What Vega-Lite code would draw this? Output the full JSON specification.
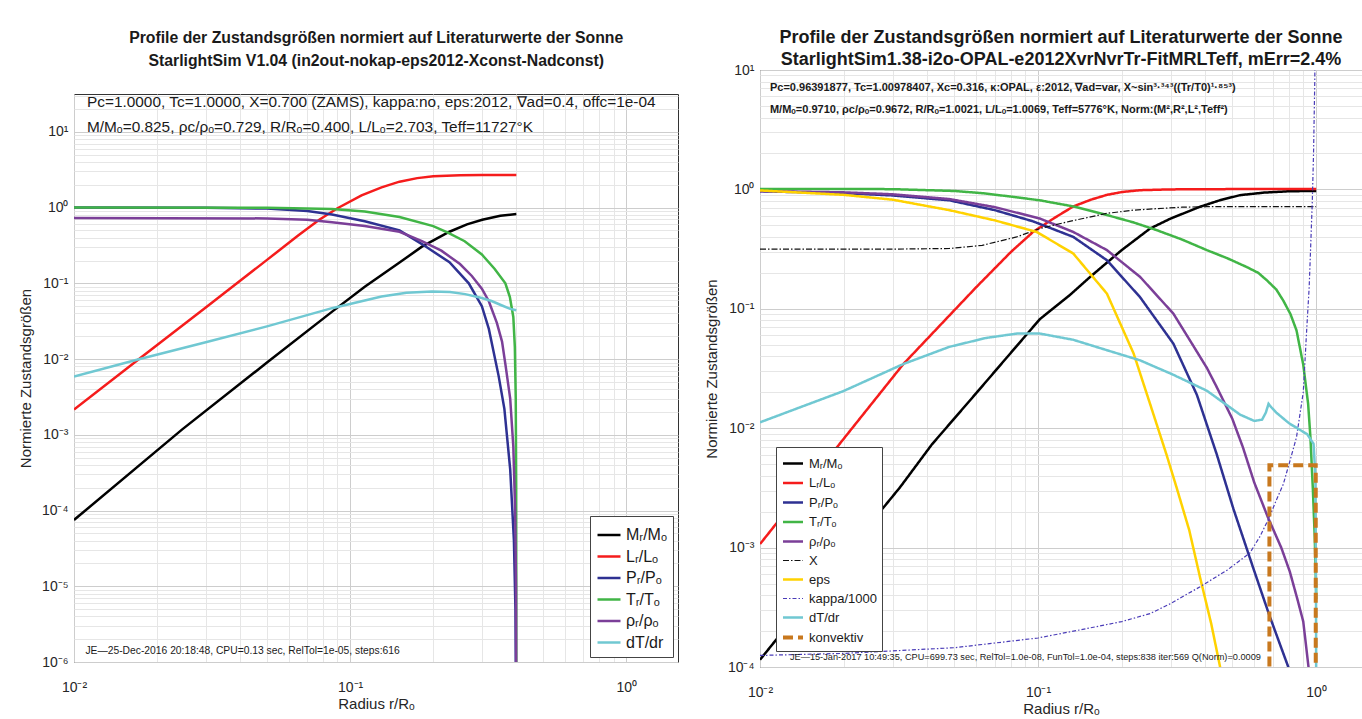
{
  "$schema": "https://vega.github.io/schema/vega-lite/v6.json",
  "background": "white",
  "padding": {"left": 17, "top": 28, "right": 0, "bottom": 0},
  "spacing": 24,
  "datasets": {
    "L": [
      {"s":"Mᵣ/Mₒ","x":0.01,"y":7.5e-5},{"s":"Mᵣ/Mₒ","x":0.0246,"y":0.00117},{"s":"Mᵣ/Mₒ","x":0.05,"y":0.009},{"s":"Mᵣ/Mₒ","x":0.0861,"y":0.0423},{"s":"Mᵣ/Mₒ","x":0.113,"y":0.09},{"s":"Mᵣ/Mₒ","x":0.151,"y":0.188},{"s":"Mᵣ/Mₒ","x":0.182,"y":0.305},{"s":"Mᵣ/Mₒ","x":0.229,"y":0.48},{"s":"Mᵣ/Mₒ","x":0.265,"y":0.6},{"s":"Mᵣ/Mₒ","x":0.301,"y":0.69},{"s":"Mᵣ/Mₒ","x":0.35,"y":0.78},{"s":"Mᵣ/Mₒ","x":0.4,"y":0.825},
      {"s":"Lᵣ/Lₒ","x":0.01,"y":0.00215},{"s":"Lᵣ/Lₒ","x":0.0172,"y":0.01},{"s":"Lᵣ/Lₒ","x":0.03,"y":0.048},{"s":"Lᵣ/Lₒ","x":0.05,"y":0.204},{"s":"Lᵣ/Lₒ","x":0.065,"y":0.43},{"s":"Lᵣ/Lₒ","x":0.0773,"y":0.69},{"s":"Lᵣ/Lₒ","x":0.09,"y":0.98},{"s":"Lᵣ/Lₒ","x":0.11,"y":1.45},{"s":"Lᵣ/Lₒ","x":0.13,"y":1.85},{"s":"Lᵣ/Lₒ","x":0.151,"y":2.2},{"s":"Lᵣ/Lₒ","x":0.175,"y":2.45},{"s":"Lᵣ/Lₒ","x":0.2,"y":2.6},{"s":"Lᵣ/Lₒ","x":0.25,"y":2.68},{"s":"Lᵣ/Lₒ","x":0.3,"y":2.7},{"s":"Lᵣ/Lₒ","x":0.4,"y":2.703},
      {"s":"Pᵣ/Pₒ","x":0.01,"y":1.0},{"s":"Pᵣ/Pₒ","x":0.03,"y":0.995},{"s":"Pᵣ/Pₒ","x":0.05,"y":0.97},{"s":"Pᵣ/Pₒ","x":0.07,"y":0.9},{"s":"Pᵣ/Pₒ","x":0.086,"y":0.81},{"s":"Pᵣ/Pₒ","x":0.113,"y":0.66},{"s":"Pᵣ/Pₒ","x":0.151,"y":0.5},{"s":"Pᵣ/Pₒ","x":0.182,"y":0.33},{"s":"Pᵣ/Pₒ","x":0.229,"y":0.19},{"s":"Pᵣ/Pₒ","x":0.269,"y":0.1},{"s":"Pᵣ/Pₒ","x":0.3,"y":0.05},{"s":"Pᵣ/Pₒ","x":0.318,"y":0.025},{"s":"Pᵣ/Pₒ","x":0.345,"y":0.006},{"s":"Pᵣ/Pₒ","x":0.362,"y":0.0022},{"s":"Pᵣ/Pₒ","x":0.38,"y":0.00035},{"s":"Pᵣ/Pₒ","x":0.392,"y":0.00004},{"s":"Pᵣ/Pₒ","x":0.397,"y":0.000005},{"s":"Pᵣ/Pₒ","x":0.3995,"y":1e-7},
      {"s":"Tᵣ/Tₒ","x":0.01,"y":1.0},{"s":"Tᵣ/Tₒ","x":0.05,"y":0.995},{"s":"Tᵣ/Tₒ","x":0.086,"y":0.96},{"s":"Tᵣ/Tₒ","x":0.113,"y":0.89},{"s":"Tᵣ/Tₒ","x":0.151,"y":0.75},{"s":"Tᵣ/Tₒ","x":0.2,"y":0.57},{"s":"Tᵣ/Tₒ","x":0.225,"y":0.47},{"s":"Tᵣ/Tₒ","x":0.26,"y":0.36},{"s":"Tᵣ/Tₒ","x":0.3,"y":0.24},{"s":"Tᵣ/Tₒ","x":0.334,"y":0.155},{"s":"Tᵣ/Tₒ","x":0.365,"y":0.1},{"s":"Tᵣ/Tₒ","x":0.379,"y":0.066},{"s":"Tᵣ/Tₒ","x":0.39,"y":0.036},{"s":"Tᵣ/Tₒ","x":0.395,"y":0.0145},{"s":"Tᵣ/Tₒ","x":0.398,"y":0.003},{"s":"Tᵣ/Tₒ","x":0.3995,"y":0.0002},{"s":"Tᵣ/Tₒ","x":0.4,"y":1e-7},
      {"s":"ρᵣ/ρₒ","x":0.01,"y":0.729},{"s":"ρᵣ/ρₒ","x":0.05,"y":0.72},{"s":"ρᵣ/ρₒ","x":0.07,"y":0.69},{"s":"ρᵣ/ρₒ","x":0.086,"y":0.64},{"s":"ρᵣ/ρₒ","x":0.113,"y":0.57},{"s":"ρᵣ/ρₒ","x":0.151,"y":0.48},{"s":"ρᵣ/ρₒ","x":0.182,"y":0.36},{"s":"ρᵣ/ρₒ","x":0.214,"y":0.27},{"s":"ρᵣ/ρₒ","x":0.25,"y":0.18},{"s":"ρᵣ/ρₒ","x":0.276,"y":0.125},{"s":"ρᵣ/ρₒ","x":0.3,"y":0.085},{"s":"ρᵣ/ρₒ","x":0.318,"y":0.058},{"s":"ρᵣ/ρₒ","x":0.34,"y":0.03},{"s":"ρᵣ/ρₒ","x":0.355,"y":0.017},{"s":"ρᵣ/ρₒ","x":0.366,"y":0.008},{"s":"ρᵣ/ρₒ","x":0.38,"y":0.003},{"s":"ρᵣ/ρₒ","x":0.39,"y":0.0007},{"s":"ρᵣ/ρₒ","x":0.396,"y":0.0001},{"s":"ρᵣ/ρₒ","x":0.399,"y":0.00001},{"s":"ρᵣ/ρₒ","x":0.4,"y":1e-7},
      {"s":"dT/dr","x":0.01,"y":0.0059},{"s":"dT/dr","x":0.0169,"y":0.0098},{"s":"dT/dr","x":0.03,"y":0.0167},{"s":"dT/dr","x":0.05,"y":0.027},{"s":"dT/dr","x":0.086,"y":0.047},{"s":"dT/dr","x":0.11,"y":0.058},{"s":"dT/dr","x":0.13,"y":0.067},{"s":"dT/dr","x":0.16,"y":0.075},{"s":"dT/dr","x":0.198,"y":0.078},{"s":"dT/dr","x":0.23,"y":0.077},{"s":"dT/dr","x":0.261,"y":0.072},{"s":"dT/dr","x":0.3,"y":0.064},{"s":"dT/dr","x":0.327,"y":0.058},{"s":"dT/dr","x":0.355,"y":0.051},{"s":"dT/dr","x":0.38,"y":0.046},{"s":"dT/dr","x":0.4,"y":0.044}
    ],
    "R": [
      {"s":"Mᵣ/Mₒ","x":0.01,"y":0.000115},{"s":"Mᵣ/Mₒ","x":0.02,"y":0.00085},{"s":"Mᵣ/Mₒ","x":0.0319,"y":0.0032},{"s":"Mᵣ/Mₒ","x":0.0415,"y":0.0073},{"s":"Mᵣ/Mₒ","x":0.06,"y":0.0197},{"s":"Mᵣ/Mₒ","x":0.08,"y":0.043},{"s":"Mᵣ/Mₒ","x":0.1016,"y":0.082},{"s":"Mᵣ/Mₒ","x":0.13,"y":0.13},{"s":"Mᵣ/Mₒ","x":0.154,"y":0.185},{"s":"Mᵣ/Mₒ","x":0.2,"y":0.31},{"s":"Mᵣ/Mₒ","x":0.253,"y":0.47},{"s":"Mᵣ/Mₒ","x":0.3,"y":0.57},{"s":"Mᵣ/Mₒ","x":0.383,"y":0.716},{"s":"Mᵣ/Mₒ","x":0.45,"y":0.81},{"s":"Mᵣ/Mₒ","x":0.533,"y":0.895},{"s":"Mᵣ/Mₒ","x":0.65,"y":0.94},{"s":"Mᵣ/Mₒ","x":0.8,"y":0.965},{"s":"Mᵣ/Mₒ","x":1.0021,"y":0.971},
      {"s":"Lᵣ/Lₒ","x":0.01,"y":0.00107},{"s":"Lᵣ/Lₒ","x":0.0197,"y":0.0078},{"s":"Lᵣ/Lₒ","x":0.0328,"y":0.0345},{"s":"Lᵣ/Lₒ","x":0.045,"y":0.075},{"s":"Lᵣ/Lₒ","x":0.06,"y":0.152},{"s":"Lᵣ/Lₒ","x":0.08,"y":0.3},{"s":"Lᵣ/Lₒ","x":0.096,"y":0.44},{"s":"Lᵣ/Lₒ","x":0.115,"y":0.58},{"s":"Lᵣ/Lₒ","x":0.134,"y":0.72},{"s":"Lᵣ/Lₒ","x":0.155,"y":0.82},{"s":"Lᵣ/Lₒ","x":0.177,"y":0.9},{"s":"Lᵣ/Lₒ","x":0.2,"y":0.95},{"s":"Lᵣ/Lₒ","x":0.233,"y":0.985},{"s":"Lᵣ/Lₒ","x":0.3,"y":1.0},{"s":"Lᵣ/Lₒ","x":0.5,"y":1.006},{"s":"Lᵣ/Lₒ","x":1.0021,"y":1.0069},
      {"s":"Pᵣ/Pₒ","x":0.01,"y":0.964},{"s":"Pᵣ/Pₒ","x":0.02,"y":0.93},{"s":"Pᵣ/Pₒ","x":0.03,"y":0.89},{"s":"Pᵣ/Pₒ","x":0.048,"y":0.81},{"s":"Pᵣ/Pₒ","x":0.07,"y":0.67},{"s":"Pᵣ/Pₒ","x":0.096,"y":0.54},{"s":"Pᵣ/Pₒ","x":0.134,"y":0.4},{"s":"Pᵣ/Pₒ","x":0.177,"y":0.255},{"s":"Pᵣ/Pₒ","x":0.233,"y":0.125},{"s":"Pᵣ/Pₒ","x":0.307,"y":0.051},{"s":"Pᵣ/Pₒ","x":0.373,"y":0.019},{"s":"Pᵣ/Pₒ","x":0.44,"y":0.006},{"s":"Pᵣ/Pₒ","x":0.505,"y":0.0021},{"s":"Pᵣ/Pₒ","x":0.594,"y":0.00068},{"s":"Pᵣ/Pₒ","x":0.68,"y":0.00027},{"s":"Pᵣ/Pₒ","x":0.795,"y":0.0001},{"s":"Pᵣ/Pₒ","x":0.85,"y":0.00005},
      {"s":"Tᵣ/Tₒ","x":0.01,"y":1.0098},{"s":"Tᵣ/Tₒ","x":0.03,"y":1.005},{"s":"Tᵣ/Tₒ","x":0.05,"y":0.97},{"s":"Tᵣ/Tₒ","x":0.063,"y":0.93},{"s":"Tᵣ/Tₒ","x":0.08,"y":0.87},{"s":"Tᵣ/Tₒ","x":0.1016,"y":0.81},{"s":"Tᵣ/Tₒ","x":0.134,"y":0.72},{"s":"Tᵣ/Tₒ","x":0.177,"y":0.61},{"s":"Tᵣ/Tₒ","x":0.22,"y":0.53},{"s":"Tᵣ/Tₒ","x":0.268,"y":0.455},{"s":"Tᵣ/Tₒ","x":0.33,"y":0.38},{"s":"Tᵣ/Tₒ","x":0.405,"y":0.31},{"s":"Tᵣ/Tₒ","x":0.48,"y":0.265},{"s":"Tᵣ/Tₒ","x":0.563,"y":0.224},{"s":"Tᵣ/Tₒ","x":0.62,"y":0.2},{"s":"Tᵣ/Tₒ","x":0.666,"y":0.173},{"s":"Tᵣ/Tₒ","x":0.72,"y":0.145},{"s":"Tᵣ/Tₒ","x":0.763,"y":0.117},{"s":"Tᵣ/Tₒ","x":0.81,"y":0.09},{"s":"Tᵣ/Tₒ","x":0.851,"y":0.066},{"s":"Tᵣ/Tₒ","x":0.9,"y":0.034},{"s":"Tᵣ/Tₒ","x":0.937,"y":0.016},{"s":"Tᵣ/Tₒ","x":0.955,"y":0.0084},{"s":"Tᵣ/Tₒ","x":0.975,"y":0.003},{"s":"Tᵣ/Tₒ","x":0.99,"y":0.0012},{"s":"Tᵣ/Tₒ","x":1.0,"y":0.0005},{"s":"Tᵣ/Tₒ","x":1.0021,"y":0.00037},
      {"s":"ρᵣ/ρₒ","x":0.01,"y":0.9672},{"s":"ρᵣ/ρₒ","x":0.02,"y":0.945},{"s":"ρᵣ/ρₒ","x":0.03,"y":0.91},{"s":"ρᵣ/ρₒ","x":0.048,"y":0.83},{"s":"ρᵣ/ρₒ","x":0.07,"y":0.71},{"s":"ρᵣ/ρₒ","x":0.1016,"y":0.57},{"s":"ρᵣ/ρₒ","x":0.134,"y":0.44},{"s":"ρᵣ/ρₒ","x":0.177,"y":0.31},{"s":"ρᵣ/ρₒ","x":0.233,"y":0.185},{"s":"ρᵣ/ρₒ","x":0.307,"y":0.091},{"s":"ρᵣ/ρₒ","x":0.36,"y":0.05},{"s":"ρᵣ/ρₒ","x":0.405,"y":0.032},{"s":"ρᵣ/ρₒ","x":0.44,"y":0.022},{"s":"ρᵣ/ρₒ","x":0.5,"y":0.012},{"s":"ρᵣ/ρₒ","x":0.545,"y":0.007},{"s":"ρᵣ/ρₒ","x":0.6,"y":0.0035},{"s":"ρᵣ/ρₒ","x":0.671,"y":0.0018},{"s":"ρᵣ/ρₒ","x":0.75,"y":0.001},{"s":"ρᵣ/ρₒ","x":0.805,"y":0.00063},{"s":"ρᵣ/ρₒ","x":0.86,"y":0.00036},{"s":"ρᵣ/ρₒ","x":0.9,"y":0.00024},{"s":"ρᵣ/ρₒ","x":0.94,"y":0.0001},{"s":"ρᵣ/ρₒ","x":0.96,"y":0.00004},
      {"s":"X","x":0.01,"y":0.316},{"s":"X","x":0.03,"y":0.316},{"s":"X","x":0.048,"y":0.32},{"s":"X","x":0.063,"y":0.34},{"s":"X","x":0.0838,"y":0.4},{"s":"X","x":0.1016,"y":0.47},{"s":"X","x":0.13,"y":0.54},{"s":"X","x":0.177,"y":0.63},{"s":"X","x":0.22,"y":0.67},{"s":"X","x":0.268,"y":0.69},{"s":"X","x":0.33,"y":0.71},{"s":"X","x":0.405,"y":0.716},{"s":"X","x":1.0,"y":0.716},
      {"s":"eps","x":0.01,"y":0.98},{"s":"eps","x":0.02,"y":0.9},{"s":"eps","x":0.03,"y":0.82},{"s":"eps","x":0.048,"y":0.67},{"s":"eps","x":0.07,"y":0.55},{"s":"eps","x":0.099,"y":0.44},{"s":"eps","x":0.134,"y":0.29},{"s":"eps","x":0.177,"y":0.134},{"s":"eps","x":0.221,"y":0.042},{"s":"eps","x":0.253,"y":0.016},{"s":"eps","x":0.29,"y":0.006},{"s":"eps","x":0.315,"y":0.0032},{"s":"eps","x":0.35,"y":0.0014},{"s":"eps","x":0.383,"y":0.00056},{"s":"eps","x":0.42,"y":0.00023},{"s":"eps","x":0.452,"y":0.0001},{"s":"eps","x":0.47,"y":0.00006},
      {"s":"kappa/1000","x":0.01,"y":0.000125},{"s":"kappa/1000","x":0.02,"y":0.00013},{"s":"kappa/1000","x":0.05,"y":0.000145},{"s":"kappa/1000","x":0.1,"y":0.000175},{"s":"kappa/1000","x":0.15,"y":0.00021},{"s":"kappa/1000","x":0.2,"y":0.00024},{"s":"kappa/1000","x":0.253,"y":0.00028},{"s":"kappa/1000","x":0.3,"y":0.00034},{"s":"kappa/1000","x":0.383,"y":0.00047},{"s":"kappa/1000","x":0.48,"y":0.00065},{"s":"kappa/1000","x":0.578,"y":0.0009},{"s":"kappa/1000","x":0.63,"y":0.00125},{"s":"kappa/1000","x":0.68,"y":0.0018},{"s":"kappa/1000","x":0.72,"y":0.0025},{"s":"kappa/1000","x":0.763,"y":0.0034},{"s":"kappa/1000","x":0.8,"y":0.005},{"s":"kappa/1000","x":0.851,"y":0.0084},{"s":"kappa/1000","x":0.9,"y":0.02},{"s":"kappa/1000","x":0.927,"y":0.07},{"s":"kappa/1000","x":0.945,"y":0.15},{"s":"kappa/1000","x":0.955,"y":0.29},{"s":"kappa/1000","x":0.97,"y":0.8},{"s":"kappa/1000","x":0.98,"y":2.0},{"s":"kappa/1000","x":0.99,"y":8},{"s":"kappa/1000","x":0.995,"y":40},
      {"s":"dT/dr","x":0.01,"y":0.0112},{"s":"dT/dr","x":0.02,"y":0.0205},{"s":"dT/dr","x":0.0328,"y":0.0345},{"s":"dT/dr","x":0.048,"y":0.048},{"s":"dT/dr","x":0.065,"y":0.057},{"s":"dT/dr","x":0.084,"y":0.062},{"s":"dT/dr","x":0.1016,"y":0.062},{"s":"dT/dr","x":0.134,"y":0.055},{"s":"dT/dr","x":0.177,"y":0.045},{"s":"dT/dr","x":0.233,"y":0.037},{"s":"dT/dr","x":0.307,"y":0.028},{"s":"dT/dr","x":0.405,"y":0.0206},{"s":"dT/dr","x":0.533,"y":0.013},{"s":"dT/dr","x":0.6,"y":0.0115},{"s":"dT/dr","x":0.64,"y":0.0118},{"s":"dT/dr","x":0.66,"y":0.0135},{"s":"dT/dr","x":0.675,"y":0.016},{"s":"dT/dr","x":0.69,"y":0.015},{"s":"dT/dr","x":0.72,"y":0.0135},{"s":"dT/dr","x":0.8,"y":0.011},{"s":"dT/dr","x":0.93,"y":0.0089},{"s":"dT/dr","x":0.98,"y":0.0074},{"s":"dT/dr","x":0.995,"y":0.004},{"s":"dT/dr","x":1.0,"y":0.0005},{"s":"dT/dr","x":1.002,"y":0.00005},
      {"s":"konvektiv","x":0.6799,"y":0.00001},{"s":"konvektiv","x":0.68,"y":0.0049},{"s":"konvektiv","x":0.998,"y":0.0049},{"s":"konvektiv","x":0.9981,"y":0.00001}
    ]
  },
  "hconcat": [
    {
      "title": {"text": ["Profile der Zustandsgrößen normiert auf Literaturwerte der Sonne", "StarlightSim V1.04 (in2out-nokap-eps2012-Xconst-Nadconst)"], "offset": 0, "fontSize": 15.8, "lineHeight": 23, "anchor": "middle", "frame": "bounds", "dx": 28},
      "spacing": 17,
      "resolve": {"legend": {"color": "independent"}},
      "vconcat": [
        {
          "width": 604,
          "height": 1,
          "data": {"values": []},
          "mark": "point",
          "view": {"stroke": null}
        },
        {
          "width": 604,
          "height": 568,
          "encoding": {
            "x": {"field": "x", "type": "quantitative",
              "scale": {"type": "log", "domain": [0.01, 1.54], "nice": false},
              "axis": {"title": "Radius r/Rₒ",
                "values": [0.01,0.02,0.03,0.04,0.05,0.06,0.07,0.08,0.09,0.1,0.2,0.3,0.4,0.5,0.6,0.7,0.8,0.9,1],
                "labelExpr": "datum.value==0.01?'10⁻²':datum.value==0.1?'10⁻¹':datum.value==1?'10⁰':''",
                "gridColor": {"condition": {"test": "datum.value==0.01||datum.value==0.1||datum.value==1", "value": "#cdcdcd"}, "value": "#e6e6e6"}}},
            "y": {"field": "y", "type": "quantitative",
              "scale": {"type": "log", "domain": [1e-6, 31.62], "nice": false},
              "axis": {"title": "Normierte Zustandsgrößen",
                "values": [1e-6,2e-6,3e-6,4e-6,5e-6,6e-6,7e-6,8e-6,9e-6,1e-5,2e-5,3e-5,4e-5,5e-5,6e-5,7e-5,8e-5,9e-5,1e-4,2e-4,3e-4,4e-4,5e-4,6e-4,7e-4,8e-4,9e-4,0.001,0.002,0.003,0.004,0.005,0.006,0.007,0.008,0.009,0.01,0.02,0.03,0.04,0.05,0.06,0.07,0.08,0.09,0.1,0.2,0.3,0.4,0.5,0.6,0.7,0.8,0.9,1,2,3,4,5,6,7,8,9,10,20,30],
                "labelExpr": "datum.value==0.000001?'10⁻⁶':datum.value==0.00001?'10⁻⁵':datum.value==0.0001?'10⁻⁴':datum.value==0.001?'10⁻³':datum.value==0.01?'10⁻²':datum.value==0.1?'10⁻¹':datum.value==1?'10⁰':datum.value==10?'10¹':''",
                "gridColor": {"condition": {"test": "datum.value==0.000001||datum.value==0.00001||datum.value==0.0001||datum.value==0.001||datum.value==0.01||datum.value==0.1||datum.value==1||datum.value==10", "value": "#cdcdcd"}, "value": "#e6e6e6"}}}
          },
          "layer": [
            {
              "data": {"name": "L"},
              "mark": {"type": "line", "clip": true, "strokeWidth": 2.5},
              "encoding": {
                "color": {"field": "s", "type": "nominal",
                  "scale": {"domain": ["Mᵣ/Mₒ","Lᵣ/Lₒ","Pᵣ/Pₒ","Tᵣ/Tₒ","ρᵣ/ρₒ","dT/dr"], "range": ["#000000","#f51c1c","#2e3192","#41b546","#7b3f98","#70c8d2"]},
                  "legend": {"orient": "bottom-right", "offset": 5, "title": null, "symbolType": "stroke", "symbolSize": 529, "symbolStrokeWidth": 2.5, "labelFontSize": 16, "rowPadding": 0.5, "padding": 6, "strokeColor": "#444444", "fillColor": "white", "labelColor": "#1a1a1a"}}
              }
            },
            {
              "data": {"values": [
                {"x": 0.01114, "y": 25, "t": "Pc=1.0000, Tc=1.0000, X=0.700 (ZAMS), kappa:no, eps:2012, ∇ad=0.4, offc=1e-04"},
                {"x": 0.01114, "y": 11.7, "t": "M/Mₒ=0.825, ρc/ρₒ=0.729, R/Rₒ=0.400, L/Lₒ=2.703, Teff=11727°K"}
              ]},
              "mark": {"type": "text", "align": "left", "baseline": "middle", "fontSize": 15.4, "color": "#1a1a1a"},
              "encoding": {"text": {"field": "t"}}
            },
            {
              "data": {"values": [
                {"x": 0.011, "y": 1.4e-6, "t": "JE—25-Dec-2016 20:18:48, CPU=0.13 sec, RelTol=1e-05, steps:616"}
              ]},
              "mark": {"type": "text", "align": "left", "baseline": "middle", "fontSize": 10.3, "color": "#1a1a1a"},
              "encoding": {"text": {"field": "t"}}
            }
          ]
        }
      ]
    },
    {
      "width": 602,
      "height": 597,
      "title": {"text": ["Profile der Zustandsgrößen normiert auf Literaturwerte der Sonne", "StarlightSim1.38-i2o-OPAL-e2012XvrNvrTr-FitMRLTeff, mErr=2.4%"], "offset": -6, "fontSize": 18, "lineHeight": 22, "anchor": "middle", "frame": "group"},
      "encoding": {
        "x": {"field": "x", "type": "quantitative",
          "scale": {"type": "log", "domain": [0.01, 1.464], "nice": false},
          "axis": {"title": "Radius r/Rₒ",
            "values": [0.01,0.02,0.03,0.04,0.05,0.06,0.07,0.08,0.09,0.1,0.2,0.3,0.4,0.5,0.6,0.7,0.8,0.9,1],
            "labelExpr": "datum.value==0.01?'10⁻²':datum.value==0.1?'10⁻¹':datum.value==1?'10⁰':''",
            "gridColor": {"condition": {"test": "datum.value==0.01||datum.value==0.1||datum.value==1", "value": "#cdcdcd"}, "value": "#e6e6e6"}}},
        "y": {"field": "y", "type": "quantitative",
          "scale": {"type": "log", "domain": [1e-4, 10], "nice": false},
          "axis": {"title": "Normierte Zustandsgrößen",
            "values": [1e-4,2e-4,3e-4,4e-4,5e-4,6e-4,7e-4,8e-4,9e-4,0.001,0.002,0.003,0.004,0.005,0.006,0.007,0.008,0.009,0.01,0.02,0.03,0.04,0.05,0.06,0.07,0.08,0.09,0.1,0.2,0.3,0.4,0.5,0.6,0.7,0.8,0.9,1,2,3,4,5,6,7,8,9,10],
            "labelExpr": "datum.value==0.0001?'10⁻⁴':datum.value==0.001?'10⁻³':datum.value==0.01?'10⁻²':datum.value==0.1?'10⁻¹':datum.value==1?'10⁰':datum.value==10?'10¹':''",
            "gridColor": {"condition": {"test": "datum.value==0.0001||datum.value==0.001||datum.value==0.01||datum.value==0.1||datum.value==1||datum.value==10", "value": "#cdcdcd"}, "value": "#e6e6e6"}}}
      },
      "layer": [
        {
          "data": {"name": "R"},
          "mark": {"type": "line", "clip": true},
          "encoding": {
            "color": {"field": "s", "type": "nominal",
              "scale": {"domain": ["Mᵣ/Mₒ","Lᵣ/Lₒ","Pᵣ/Pₒ","Tᵣ/Tₒ","ρᵣ/ρₒ","X","eps","kappa/1000","dT/dr","konvektiv"], "range": ["#000000","#f51c1c","#2e3192","#41b546","#7b3f98","#111111","#ffd200","#4a3cb8","#70c8d2","#c8781e"]},
              "legend": {"orient": "bottom-left", "offset": 16, "title": null, "symbolType": "stroke", "symbolSize": 400, "labelFontSize": 13, "rowPadding": 0.5, "padding": 5, "strokeColor": "#444444", "fillColor": "white", "labelColor": "#1a1a1a"}},
            "strokeDash": {"field": "s", "type": "nominal",
              "scale": {"domain": ["Mᵣ/Mₒ","Lᵣ/Lₒ","Pᵣ/Pₒ","Tᵣ/Tₒ","ρᵣ/ρₒ","X","eps","kappa/1000","dT/dr","konvektiv"], "range": [[1,0],[1,0],[1,0],[1,0],[1,0],[6,2,1.5,2],[1,0],[4,2,1.5,2],[1,0],[10,5]]},
              "legend": {"orient": "bottom-left", "offset": 16, "title": null, "symbolType": "stroke", "symbolSize": 400, "labelFontSize": 13, "rowPadding": 0.5, "padding": 5, "strokeColor": "#444444", "fillColor": "white", "labelColor": "#1a1a1a"}},
            "strokeWidth": {"field": "s", "type": "nominal",
              "scale": {"type": "ordinal", "domain": ["Mᵣ/Mₒ","Lᵣ/Lₒ","Pᵣ/Pₒ","Tᵣ/Tₒ","ρᵣ/ρₒ","X","eps","kappa/1000","dT/dr","konvektiv"], "range": [2.5,2.5,2.5,2.5,2.5,1.2,2.5,1.2,2.5,4]},
              "legend": {"orient": "bottom-left", "offset": 16, "title": null, "symbolType": "stroke", "symbolSize": 400, "labelFontSize": 13, "rowPadding": 0.5, "padding": 5, "strokeColor": "#444444", "fillColor": "white", "labelColor": "#1a1a1a"}}
          }
        },
        {
          "data": {"values": [
            {"x": 0.01086, "y": 7.06, "t": "Pc=0.96391877, Tc=1.00978407, Xc=0.316, κ:OPAL, ε:2012, ∇ad=var, X~sin³·³⁴³((Tr/T0)¹·⁸⁵³)"},
            {"x": 0.01086, "y": 4.61, "t": "M/Mₒ=0.9710, ρc/ρₒ=0.9672, R/Rₒ=1.0021, L/Lₒ=1.0069, Teff=5776°K, Norm:(M²,R²,L²,Teff²)"}
          ]},
          "mark": {"type": "text", "align": "left", "baseline": "middle", "fontSize": 11, "fontWeight": "bold", "color": "#1a1a1a"},
          "encoding": {"text": {"field": "t"}}
        },
        {
          "data": {"values": [
            {"x": 0.01282, "y": 0.000121, "t": "JE—15-Jan-2017 10:49:35, CPU=699.73 sec, RelTol=1.0e-08, FunTol=1.0e-04, steps:838 iter:569 Q(Norm)=0.0009"}
          ]},
          "mark": {"type": "text", "align": "left", "baseline": "middle", "fontSize": 9.2, "color": "#1a1a1a"},
          "encoding": {"text": {"field": "t"}}
        }
      ]
    }
  ],
  "resolve": {
    "scale": {"color": "independent", "strokeDash": "independent", "strokeWidth": "independent", "x": "independent", "y": "independent"},
    "legend": {"color": "independent", "strokeDash": "independent", "strokeWidth": "independent"}
  },
  "config": {
    "font": "Liberation Sans",
    "view": {"stroke": "#333333", "strokeWidth": 1},
    "axis": {"grid": true, "gridWidth": 1, "ticks": false, "domain": false, "labelFont": "Liberation Sans", "labelFontSize": 14, "labelColor": "#262626", "labelOverlap": false, "labelFlush": false, "labelBound": false, "labelPadding": 6, "titleFont": "Liberation Sans", "titleFontSize": 15, "titleFontWeight": "normal", "titleColor": "#262626"},
    "axisX": {"labelPadding": 18, "titlePadding": 2},
    "axisY": {"titlePadding": 8},
    "title": {"font": "Liberation Sans", "fontWeight": "bold", "color": "#1a1a1a"},
    "legend": {"labelFont": "Liberation Sans"}
  }
}
